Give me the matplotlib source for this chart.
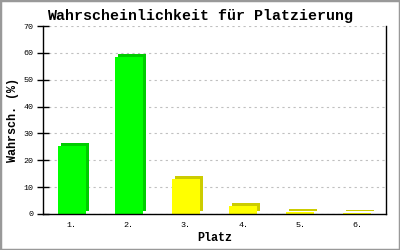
import matplotlib
matplotlib.use("Agg")
import matplotlib.pyplot as plt
import matplotlib.transforms as mtransforms
from matplotlib.patches import Rectangle

categories = ["1.", "2.", "3.", "4.", "5.", "6."]
values = [25.5, 58.5, 13.0, 3.0, 0.8, 0.3]
front_colors = ["#00ff00", "#00ff00", "#ffff00", "#ffff00", "#ffff00", "#ffff00"]
side_colors = ["#00cc00", "#00cc00", "#cccc00", "#cccc00", "#cccc00", "#cccc00"]
yticks = [0, 10, 20, 30, 40, 50, 60, 70]

font = ["Liberation Mono", "DejaVu Sans Mono"]

fig = plt.figure(figsize=(4, 2.5), dpi=100)
ax = fig.add_axes([43/400, 1 - 214/250, (386-43)/400, (214-26)/250])

x = list(range(len(categories)))
shadow = mtransforms.offset_copy(ax.transData, fig=fig, x=3, y=3, units="dots")
ax.bar(x, values, width=0.49, color=side_colors, transform=shadow, zorder=2, linewidth=0)
ax.bar(x, values, width=0.49, color=front_colors, zorder=3, linewidth=0)

ax.set_xlim(-0.5, 5.5)
ax.set_ylim(0, 70)
ax.set_yticks(yticks)
ax.set_xticks(x)
ax.set_xticklabels(categories, fontfamily=font, fontsize=6)
ax.set_yticklabels([str(t) for t in yticks], fontfamily=font, fontsize=6)
ax.tick_params(axis="y", direction="inout", length=8, width=1, pad=3)
ax.tick_params(axis="x", length=0, pad=6)
ax.yaxis.grid(True, linestyle=(0, (2, 3)), color="#c0c0c0", linewidth=0.8, zorder=0)
ax.set_axisbelow(True)
ax.spines["top"].set_visible(False)
for s in ["left", "bottom", "right"]:
    ax.spines[s].set_linewidth(1)
    ax.spines[s].set_color("black")
    ax.spines[s].set_zorder(5)

fig.text(0.5, 1 - 20/250, "Wahrscheinlichkeit für Platzierung", fontfamily=font,
         fontsize=10.8, fontweight="bold", ha="center", va="baseline")
ax.set_xlabel("Platz", fontfamily=font, fontsize=8.5, fontweight="bold", labelpad=2)
fig.text(13/400, 1 - 120/250, "Wahrsch. (%)", fontfamily=font, fontsize=8.5,
         fontweight="bold", rotation=90, ha="center", va="center")

fig.patches.append(Rectangle((0, 0), 1, 1, transform=fig.transFigure, fill=False,
                             edgecolor="#999999", linewidth=2.5))

fig.savefig("out.png", dpi=100)
